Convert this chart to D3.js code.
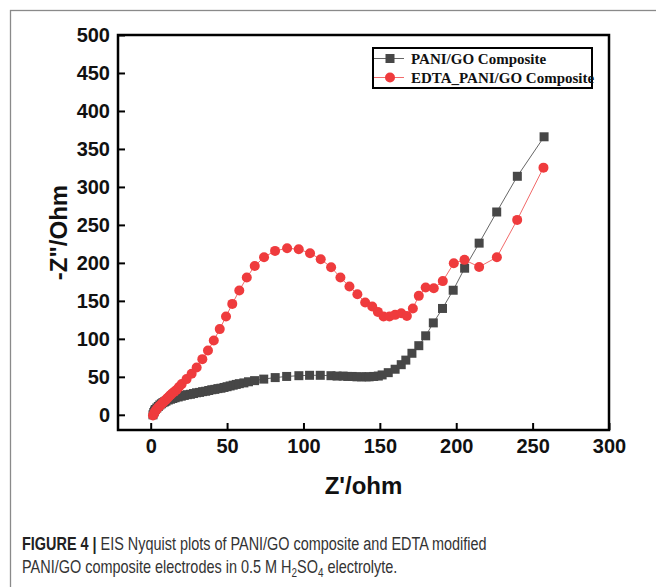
<!DOCTYPE html>
<html>
<head>
<meta charset="utf-8">
<script src="https://cdn.jsdelivr.net/npm/d3@7"></script>
<style>
  body { margin: 0; background: #fff; }
  svg { display: block; }
</style>
</head>
<body>
<div id="chart"></div>
<script>
  // series: [Z', -Z'']
  var paniGo = [
    [1.5, 0], [2, 3], [2.5, 5], [3, 7], [4, 9], [5, 11], [6, 13], [7, 14.5], [8, 16], [9, 17],
    [10, 18], [11.5, 19.5], [13, 20.5], [14.5, 21.5], [16, 22.5], [18, 23.5], [20, 24.5], [22, 25.5],
    [24, 26.5], [26, 27], [28, 28], [30, 29], [32, 29.5], [34, 30.5], [36, 31], [38, 32], [40, 33],
    [42, 33.5], [44, 34.5], [46, 35], [48, 36], [50, 37], [52, 38], [54, 39], [56, 40], [58, 41],
    [61, 42], [64, 43.5], [68, 45], [74, 47], [81.5, 49], [89, 50.5], [97, 51.5], [104, 52],
    [111, 52], [118, 51.5], [122, 51], [126, 51], [129, 50.5], [132, 50.5], [135, 50], [138, 50],
    [141, 50], [143, 50], [146, 50.5], [149, 51], [151.5, 52.5], [155.5, 55.5], [160, 60], [164, 66],
    [167, 72], [171, 81], [175.5, 91], [180, 104], [185, 121], [191, 140], [198, 164], [205.5, 193],
    [215, 226], [226.5, 267], [240, 314], [257.5, 366]
  ];

  var edtaPaniGo = [
    [1.5, -1], [2, 1], [2.5, 3], [3, 5], [4, 7.5], [5, 10], [6, 12], [7, 14], [8, 16], [9, 18],
    [10, 20], [11, 22], [12, 24], [13, 26], [14, 28], [15.5, 30.5], [17, 33], [18.5, 36.5],
    [20.3, 40.4], [23.5, 47], [26.8, 54], [30.1, 62.3], [33.8, 73.3], [37.5, 84.6], [41.3, 97.8],
    [45.2, 112.8], [49.3, 129.4], [53.4, 146], [58, 163.6], [62.9, 180.7], [68.1, 196], [74.2, 207.5],
    [81.4, 215.8], [89.3, 219.3], [96.9, 218], [104.3, 212.7], [111.3, 204.8], [118.1, 194.3],
    [124.2, 180.7], [130.1, 168.8], [135.3, 158.8], [140.4, 147.8], [145, 142.5], [148.7, 135.5],
    [152.4, 129.4], [156.3, 129.4], [160, 131.6], [164, 133.8], [167.7, 130], [171.6, 140],
    [175.5, 156.6], [180, 167.5], [185.3, 166.7], [191.2, 176], [198.4, 199.6], [205.4, 204],
    [215, 194.7], [226.6, 207.5], [239.9, 256.6], [257.1, 325.4]
  ];

  var seriesNames = ["PANI/GO Composite", "EDTA_PANI/GO Composite"];
  var xTicks = [0, 50, 100, 150, 200, 250, 300];
  var yTicks = [0, 50, 100, 150, 200, 250, 300, 350, 400, 450, 500];

  var width = 656, height = 587;
  var plotL = 118, plotR = 609, plotT = 35, plotB = 430;

  var svg = d3.select("#chart").append("svg")
    .attr("width", width).attr("height", height);

  // outer figure frame
  svg.append("rect")
    .attr("x", 10.5).attr("y", 10.5)
    .attr("width", 700).attr("height", 700)
    .attr("fill", "none").attr("stroke", "#8a8a8a").attr("stroke-width", 1.3);

  var x = d3.scaleLinear().domain([-21.4, 300]).range([plotL, plotR]);
  var y = d3.scaleLinear().domain([-20, 500]).range([plotB, plotT]);

  var xAxis = svg.append("g")
    .attr("transform", "translate(0," + plotB + ")")
    .call(d3.axisBottom(x).tickValues(xTicks).tickSize(-7).tickPadding(9));
  var yAxis = svg.append("g")
    .attr("transform", "translate(" + plotL + ",0)")
    .call(d3.axisLeft(y).tickValues(yTicks).tickSize(-7).tickPadding(8));

  [xAxis, yAxis].forEach(function(a) {
    a.select(".domain").remove();
    a.selectAll(".tick line").attr("stroke", "#000").attr("stroke-width", 2);
    a.selectAll(".tick text")
      .attr("fill", "#111")
      .style("font-family", "'Liberation Sans', Arial, sans-serif")
      .style("font-weight", "bold")
      .style("font-size", "20px");
  });

  svg.append("rect")
    .attr("x", plotL).attr("y", plotT)
    .attr("width", plotR - plotL).attr("height", plotB - plotT)
    .attr("fill", "none").attr("stroke", "#000").attr("stroke-width", 2.5);

  // axis titles
  svg.append("text")
    .attr("x", (plotL + plotR) / 2).attr("y", 494)
    .attr("text-anchor", "middle")
    .style("font-family", "'Liberation Sans', Arial, sans-serif")
    .style("font-weight", "bold").style("font-size", "24px")
    .attr("fill", "#111")
    .text("Z'/ohm");

  svg.append("text")
    .attr("transform", "translate(67," + (plotT + plotB) / 2 + ") rotate(-90)")
    .attr("text-anchor", "middle")
    .style("font-family", "'Liberation Sans', Arial, sans-serif")
    .style("font-weight", "bold").style("font-size", "24px")
    .attr("fill", "#111")
    .text("-Z\"/Ohm");

  var line = d3.line()
    .x(function(d) { return x(d[0]); })
    .y(function(d) { return y(d[1]); });

  var square = d3.symbol().type(d3.symbolSquare).size(81);

  // PANI/GO
  svg.append("path").datum(paniGo)
    .attr("d", line).attr("fill", "none")
    .attr("stroke", "#666").attr("stroke-width", 1);
  svg.append("g").selectAll("path").data(paniGo).enter().append("path")
    .attr("d", square)
    .attr("transform", function(d) { return "translate(" + x(d[0]) + "," + y(d[1]) + ")"; })
    .attr("fill", "#474747");

  // EDTA_PANI/GO
  svg.append("path").datum(edtaPaniGo)
    .attr("d", line).attr("fill", "none")
    .attr("stroke", "#f26a6a").attr("stroke-width", 1);
  svg.append("g").selectAll("circle").data(edtaPaniGo).enter().append("circle")
    .attr("cx", function(d) { return x(d[0]); })
    .attr("cy", function(d) { return y(d[1]); })
    .attr("r", 5)
    .attr("fill", "#ef3b3d");

  // legend
  var lg = svg.append("g");
  lg.append("rect")
    .attr("x", 373).attr("y", 48).attr("width", 219).attr("height", 40)
    .attr("fill", "#fff").attr("stroke", "#000").attr("stroke-width", 2);
  var rows = [
    { name: seriesNames[0], y: 58.5, stroke: "#666", fill: "#474747", shape: "square" },
    { name: seriesNames[1], y: 77.5, stroke: "#f26a6a", fill: "#ef3b3d", shape: "circle" }
  ];
  rows.forEach(function(r) {
    lg.append("line")
      .attr("x1", 374).attr("x2", 404).attr("y1", r.y).attr("y2", r.y)
      .attr("stroke", r.stroke).attr("stroke-width", 1);
    if (r.shape === "square") {
      lg.append("path").attr("d", square)
        .attr("transform", "translate(390," + r.y + ")").attr("fill", r.fill);
    } else {
      lg.append("circle").attr("cx", 390).attr("cy", r.y).attr("r", 5).attr("fill", r.fill);
    }
    lg.append("text")
      .attr("x", 411).attr("y", r.y + 5)
      .style("font-family", "'Liberation Serif', 'Times New Roman', serif")
      .style("font-weight", "bold").style("font-size", "15px")
      .attr("fill", "#111")
      .text(r.name);
  });

  // caption
  var capFont = "'Liberation Sans', Arial, sans-serif";
  var cap1 = svg.append("text")
    .attr("x", 0).attr("y", 0)
    .style("font-family", capFont).style("font-size", "19px").attr("fill", "#333");
  cap1.append("tspan").style("font-weight", "bold").attr("fill", "#222").text("FIGURE 4 | ");
  cap1.append("tspan").text("EIS Nyquist plots of PANI/GO composite and EDTA modified");

  var cap2 = svg.append("text")
    .attr("x", 0).attr("y", 0)
    .style("font-family", capFont).style("font-size", "19px").attr("fill", "#333");
  cap2.append("tspan").text("PANI/GO composite electrodes in 0.5 M H");
  cap2.append("tspan").attr("dy", 4).style("font-size", "13px").text("2");
  cap2.append("tspan").attr("dy", -4).text("SO");
  cap2.append("tspan").attr("dy", 4).style("font-size", "13px").text("4");
  cap2.append("tspan").attr("dy", -4).text(" electrolyte.");

  // the caption face is condensed; squeeze to the widths in the figure
  function fit(t, x0, yb, w) {
    var len = t.node().getBBox().width;
    t.attr("transform", "translate(" + x0 + "," + yb + ") scale(" + (w / len) + ",1)");
  }
  fit(cap1, 22, 550, 465);
  fit(cap2, 22, 573, 376);
</script>
</body>
</html>
